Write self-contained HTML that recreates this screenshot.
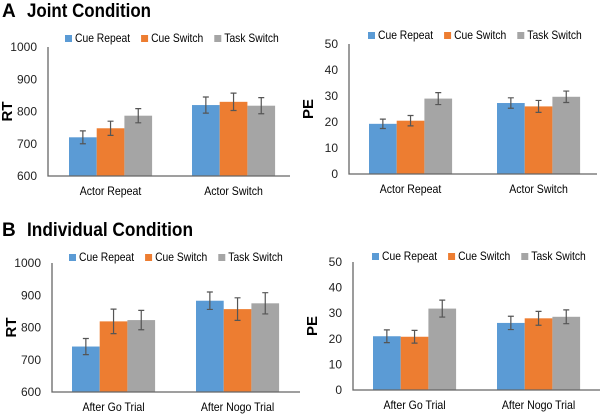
<!DOCTYPE html>
<html><head><meta charset="utf-8">
<style>
body{margin:0;background:#fff;width:601px;height:415px;overflow:hidden;font-family:"Liberation Sans",sans-serif}
svg{display:block}
</style></head>
<body>
<svg id="fig" width="601" height="415" xmlns="http://www.w3.org/2000/svg">
<text x="2" y="17" font-size="19" font-weight="bold" fill="#000">A</text>
<text x="27" y="17" font-size="19" font-weight="bold" fill="#000" textLength="124" lengthAdjust="spacingAndGlyphs">Joint Condition</text>
<text x="2" y="236" font-size="19" font-weight="bold" fill="#000">B</text>
<text x="27" y="236" font-size="19" font-weight="bold" fill="#000" textLength="166" lengthAdjust="spacingAndGlyphs">Individual Condition</text>
</svg>
<script>
const seriesNames = ["Cue Repeat","Cue Switch","Task Switch"];
const colors = ["#5b9bd5","#ed7d31","#a5a5a5"];
const catsA = ["Actor Repeat","Actor Switch"];
const catsB = ["After Go Trial","After Nogo Trial"];
const rtTicks = [600,700,800,900,1000];
const peTicks = [0,10,20,30,40,50];
const aRT = [[720,820],[748,830],[787,818]];
const aRTerr = [[20,25],[22,27],[22,25]];
const aPE = [[19.3,27.3],[20.5,26],[29,29.7]];
const aPEerr = [[1.8,2],[2,2.3],[2.3,2.2]];
const bRT = [[741,883],[819,857],[823,875]];
const bRTerr = [[25,27],[38,35],[30,33]];
const bPE = [[21,26.2],[20.8,28],[31.8,28.6]];
const bPEerr = [[2.5,2.6],[2.5,2.7],[3.3,2.7]];

const NS="http://www.w3.org/2000/svg";
const svg=document.getElementById('fig');
function mk(tag,attrs,parent){const e=document.createElementNS(NS,tag);for(const k in attrs)e.setAttribute(k,attrs[k]);(parent||svg).appendChild(e);return e;}
function squeeze(t,f){const w=t.getComputedTextLength()*f;t.setAttribute('textLength',w);t.setAttribute('lengthAdjust','spacingAndGlyphs');return w;}

function panel(p){
  const g=mk('g',{});
  
  
  const min=p.ticks[0],max=p.ticks[p.ticks.length-1];
  const y=v=>p.bottom-(v-min)/(max-min)*(p.bottom-p.top);
  p.ticks.forEach(t=>{
    const tx=mk('text',{x:p.ax-11,y:y(t)+4,'font-size':12,'text-anchor':'end',fill:'#222'},g);
    tx.textContent=t;
    
    
  });
  const yl=mk('text',{x:0,y:0,'font-size':15,'font-weight':'bold','text-anchor':'middle',fill:'#000',transform:`translate(${p.ax-36},${(p.top+p.bottom)/2}) rotate(-90)`},g);
  yl.textContent=p.ylabel;
  
  
  const bw=27.7;
  p.vals.forEach((sv,si)=>{
    sv.forEach((v,ci)=>{
      const x=p.gx[ci]+si*bw;
      const r=mk('rect',{x:x,y:y(v),width:bw,height:p.bottom-y(v),fill:colors[si]},g);
      
      
      const e=p.errs[si][ci],cx=x+bw/2;
      const eb=mk('path',{d:`M${cx},${y(v+e)}V${y(v-e)}M${cx-3},${y(v+e)}H${cx+3}M${cx-3},${y(v-e)}H${cx+3}`,stroke:'#555','stroke-width':1.2,fill:'none'},g);
      
      
    });
  });
  const axl=mk('path',{d:`M${p.ax},${p.top}V${p.bottom}H${p.right}`,stroke:'#666','stroke-width':1.3,fill:'none'},g);
  
  
  p.cats.forEach((c,ci)=>{
    const t=mk('text',{x:p.gx[ci]+bw*1.5,y:p.bottom+19,'font-size':12,'text-anchor':'middle',fill:'#000'},g);
    t.textContent=c;
    
    
    squeeze(t,0.88);
  });
  let lx=p.legX;
  seriesNames.forEach((s,si)=>{
    const sw=mk('rect',{x:lx,y:p.legY-7,width:7,height:7,fill:colors[si]},g);
    
    
    const t=mk('text',{x:lx+10,y:p.legY,'font-size':12,fill:'#000'},g);
    t.textContent=s;
    
    
    const w=squeeze(t,0.86);
    lx+=10+w+11;
  });
}
panel({name:'joint-rt-chart',ax:48,top:47,bottom:176,right:290,ticks:rtTicks,ylabel:'RT',vals:aRT,errs:aRTerr,gx:[69,192],cats:catsA,legX:65,legY:42});
panel({name:'joint-pe-chart',ax:349,top:44,bottom:174,right:597,ticks:peTicks,ylabel:'PE',vals:aPE,errs:aPEerr,gx:[369,497],cats:catsA,legX:368,legY:39});
panel({name:'individual-rt-chart',ax:52,top:263,bottom:392,right:300,ticks:rtTicks,ylabel:'RT',vals:bRT,errs:bRTerr,gx:[72,196],cats:catsB,legX:69,legY:261});
panel({name:'individual-pe-chart',ax:353,top:262,bottom:390,right:600,ticks:peTicks,ylabel:'PE',vals:bPE,errs:bPEerr,gx:[373,497],cats:catsB,legX:372,legY:260});
</script>
</body></html>
